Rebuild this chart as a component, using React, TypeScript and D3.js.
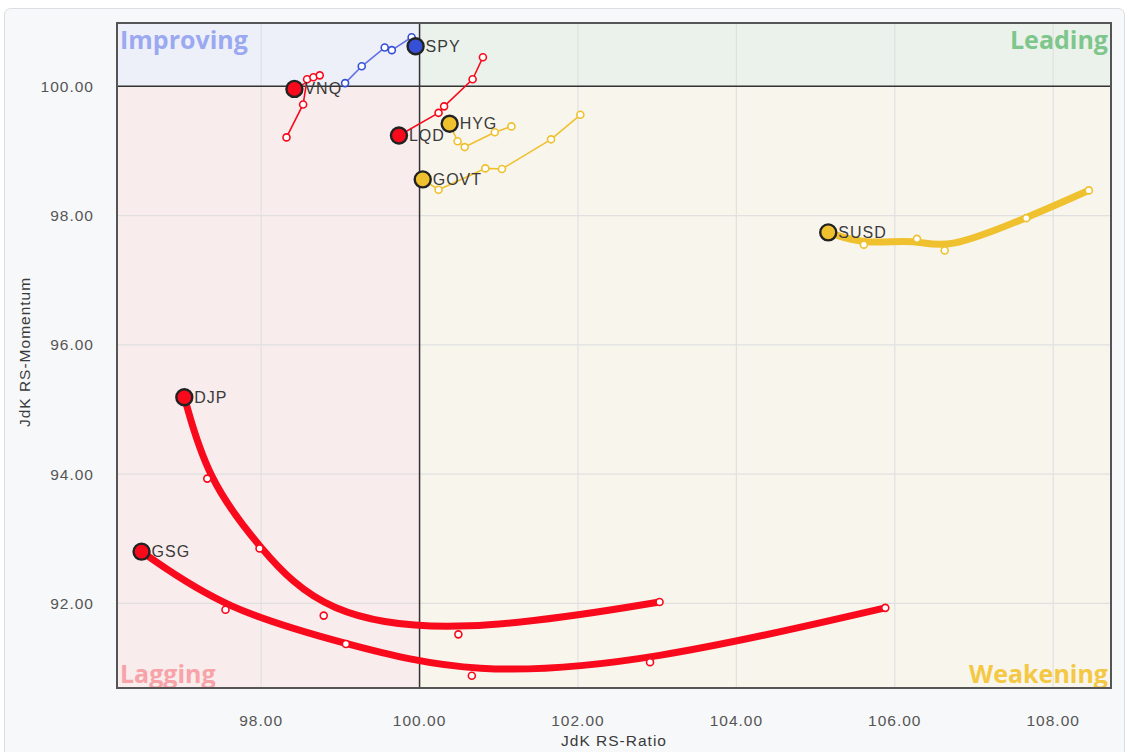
import React from 'react';
import * as d3 from 'd3';

// RRG trails, oldest point first, head (latest) last
const SPY_X = [99.06, 99.27, 99.56, 99.65, 99.90, 99.95];
const SPY_Y = [100.05, 100.31, 100.60, 100.56, 100.76, 100.62];
const VNQ_X = [98.32, 98.53, 98.58, 98.66, 98.74, 98.42];
const VNQ_Y = [99.21, 99.72, 100.11, 100.14, 100.17, 99.96];
const LQD_X = [100.80, 100.67, 100.31, 100.24, 99.74];
const LQD_Y = [100.45, 100.11, 99.69, 99.59, 99.24];
const HYG_X = [101.16, 100.95, 100.57, 100.48, 100.38];
const HYG_Y = [99.38, 99.29, 99.06, 99.15, 99.42];
const GOVT_X = [102.03, 101.66, 101.04, 100.83, 100.24, 100.04];
const GOVT_Y = [99.56, 99.18, 98.72, 98.73, 98.40, 98.56];
const SUSD_X = [108.45, 107.66, 106.63, 106.28, 105.61, 105.16];
const SUSD_Y = [98.39, 97.96, 97.46, 97.64, 97.55, 97.74];
const DJP_X = [103.03, 100.49, 98.79, 97.98, 97.32, 97.03];
const DJP_Y = [92.02, 91.52, 91.81, 92.85, 93.93, 95.19];
const GSG_X = [105.88, 102.91, 100.66, 99.07, 97.55, 96.49];
const GSG_Y = [91.93, 91.09, 90.88, 91.37, 91.90, 92.80];

const X_TICKS = [98, 100, 102, 104, 106, 108];
const Y_TICKS = [92, 94, 96, 98, 100];

const RED = '#f80a1c';
const YELLOW = '#efc12f';
const BLUE = '#3550d6';

const SERIES = [
  { name: 'SPY', xs: SPY_X, ys: SPY_Y, color: BLUE, line: '#6272e6', thick: false },
  { name: 'VNQ', xs: VNQ_X, ys: VNQ_Y, color: RED, line: RED, thick: false },
  { name: 'LQD', xs: LQD_X, ys: LQD_Y, color: RED, line: RED, thick: false },
  { name: 'HYG', xs: HYG_X, ys: HYG_Y, color: YELLOW, line: YELLOW, thick: false },
  { name: 'GOVT', xs: GOVT_X, ys: GOVT_Y, color: YELLOW, line: YELLOW, thick: false },
  { name: 'SUSD', xs: SUSD_X, ys: SUSD_Y, color: YELLOW, line: YELLOW, thick: true },
  { name: 'DJP', xs: DJP_X, ys: DJP_Y, color: RED, line: RED, thick: true },
  { name: 'GSG', xs: GSG_X, ys: GSG_Y, color: RED, line: RED, thick: true },
];

const W = 1134;
const H = 752;
const plot = { left: 117, top: 23, right: 1111, bottom: 688 };

const App: React.FC = () => {
  const x = d3.scaleLinear().domain([96.18, 108.73]).range([plot.left, plot.right]);
  const y = d3.scaleLinear().domain([90.69, 100.98]).range([plot.bottom, plot.top]);
  const x0 = x(100);
  const y0 = y(100);

  const thinLine = d3.line<[number, number]>().x(d => x(d[0])).y(d => y(d[1]));
  const thickLine = d3.line<[number, number]>().x(d => x(d[0])).y(d => y(d[1])).curve(d3.curveBasis);

  const quadFont = { fontFamily: '"Open Sans", sans-serif', fontWeight: 700, fontSize: 25 };
  const tickFont = { fontFamily: '"Liberation Sans", Arial, sans-serif', fontSize: 15.5, letterSpacing: 1, fill: '#555' };
  const labelFont = { fontFamily: '"Liberation Sans", Arial, sans-serif', fontSize: 16, letterSpacing: 1, fill: '#3a3a3a' };

  return (
    <svg width={W} height={H} style={{ position: 'absolute', left: 0, top: 0, background: '#fff' }}>
      <rect x={4.5} y={8.5} width={1120} height={760} rx={6} fill="#f7f8fa" stroke="#dcdde0" />

      {/* quadrants */}
      <rect x={plot.left} y={plot.top} width={x0 - plot.left} height={y0 - plot.top} fill="#eef0f9" />
      <rect x={x0} y={plot.top} width={plot.right - x0} height={y0 - plot.top} fill="#ebf2ec" />
      <rect x={plot.left} y={y0} width={x0 - plot.left} height={plot.bottom - y0} fill="#f8eced" />
      <rect x={x0} y={y0} width={plot.right - x0} height={plot.bottom - y0} fill="#f8f5ed" />

      {/* grid */}
      {X_TICKS.map(t => (
        <line key={'gx' + t} x1={x(t)} x2={x(t)} y1={plot.top} y2={plot.bottom} stroke="#e0e0e0" strokeWidth={1.2} />
      ))}
      {Y_TICKS.map(t => (
        <line key={'gy' + t} x1={plot.left} x2={plot.right} y1={y(t)} y2={y(t)} stroke="#e0e0e0" strokeWidth={1.2} />
      ))}

      {/* quadrant labels */}
      <text x={plot.left + 3} y={plot.top + 26} fill="#9ba9f0" style={quadFont}>Improving</text>
      <text x={plot.right - 3} y={plot.top + 26} fill="#7ec68b" textAnchor="end" style={quadFont}>Leading</text>
      <text x={plot.left + 3} y={plot.bottom - 5} fill="#f7a3a8" style={quadFont}>Lagging</text>
      <text x={plot.right - 3} y={plot.bottom - 5} fill="#f4c844" textAnchor="end" style={quadFont}>Weakening</text>

      {/* centre lines */}
      <line x1={x0} x2={x0} y1={plot.top} y2={plot.bottom} stroke="#333" strokeWidth={1.5} />
      <line x1={plot.left} x2={plot.right} y1={y0} y2={y0} stroke="#333" strokeWidth={1.5} />

      {/* border */}
      <rect x={plot.left} y={plot.top} width={plot.right - plot.left} height={plot.bottom - plot.top} fill="none" stroke="#555" strokeWidth={2} />

      {/* axes */}
      {X_TICKS.map(t => (
        <text key={'tx' + t} x={x(t)} y={726} textAnchor="middle" style={tickFont}>{t.toFixed(2)}</text>
      ))}
      {Y_TICKS.map(t => (
        <text key={'ty' + t} x={94} y={y(t) + 5.5} textAnchor="end" style={tickFont}>{t.toFixed(2)}</text>
      ))}
      <text x={(plot.left + plot.right) / 2} y={746} textAnchor="middle" style={{ ...tickFont, fill: '#3a3a3a' }}>JdK RS-Ratio</text>
      <text transform={`translate(30, 352) rotate(-90)`} textAnchor="middle" style={{ ...tickFont, fill: '#3a3a3a' }}>JdK RS-Momentum</text>

      {/* trails */}
      {SERIES.map(s => {
        const pts: [number, number][] = s.xs.map((v, i) => [v, s.ys[i]]);
        const head = pts[pts.length - 1];
        return (
          <g key={s.name}>
            <path
              d={(s.thick ? thickLine(pts) : thinLine(pts)) || ''}
              fill="none"
              stroke={s.line}
              strokeWidth={s.thick ? 7 : 1.6}
              strokeLinecap="round"
              strokeLinejoin="round"
            />
            {pts.slice(0, -1).map((p, i) => (
              <circle key={i} cx={x(p[0])} cy={y(p[1])} r={3.5} fill="#fff" stroke={s.color} strokeWidth={1.6} />
            ))}
            <circle cx={x(head[0])} cy={y(head[1])} r={8} fill={s.color} stroke="#222" strokeWidth={2.4} />
            <text x={x(head[0]) + 10} y={y(head[1]) + 5.5} style={labelFont}>{s.name}</text>
          </g>
        );
      })}
    </svg>
  );
};

export default App;
